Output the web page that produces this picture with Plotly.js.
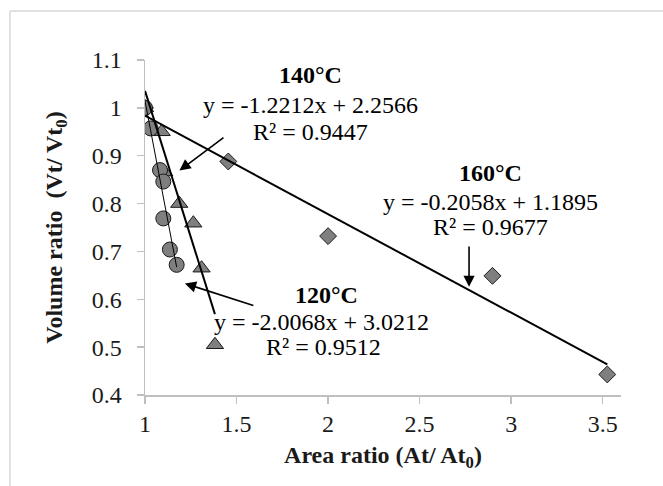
<!DOCTYPE html>
<html><head><meta charset="utf-8">
<script src="https://cdn.plot.ly/plotly-3.0.1.min.js"></script>
<style>html,body{margin:0;padding:0;background:#fff}#chart{width:663px;height:486px}</style>
</head><body><div id="chart"></div>
<script>
// 120°C (circles)
const x120 = [1.000, 1.031, 1.082, 1.100, 1.100, 1.136, 1.173];
const y120 = [1.000, 0.957, 0.870, 0.846, 0.769, 0.704, 0.672];
// 140°C (triangles)
const x140 = [1.000, 1.091, 1.105, 1.187, 1.264, 1.309, 1.382];
const y140 = [1.000, 0.950, 0.866, 0.800, 0.759, 0.665, 0.505];
// 160°C (diamonds)
const x160 = [1.000, 1.455, 2.000, 2.898, 3.525];
const y160 = [1.000, 0.888, 0.732, 0.649, 0.443];
// trendline coefficients shown on the chart
const slopes = {t120: -2.0068, t140: -1.2212, t160: -0.2058};
const intercepts = {t120: 3.0212, t140: 2.2566, t160: 1.1895};
const r2 = {t120: 0.9512, t140: 0.9447, t160: 0.9677};
const xTicks = [1, 1.5, 2, 2.5, 3, 3.5];
const yTicks = [0.4, 0.5, 0.6, 0.7, 0.8, 0.9, 1, 1.1];

const FONT = 'Liberation Serif';
const fill = '#7f7f7f', edge = '#1a1a1a';

function trend(xs, key) {
  const lo = Math.min(...xs), hi = Math.max(...xs);
  return {x: [lo, hi], y: [slopes[key]*lo + intercepts[key], slopes[key]*hi + intercepts[key]]};
}
const tr120 = trend(x120, 't120'), tr140 = trend(x140, 't140'), tr160 = trend(x160, 't160');

const traces = [
  {x: x160, y: y160, mode: 'markers', type: 'scatter', marker: {symbol: 'diamond', size: 13, color: fill, line: {color: edge, width: 1}}},
  {x: x140, y: y140, mode: 'markers', type: 'scatter', marker: {symbol: 'triangle-up', size: 15, color: fill, line: {color: edge, width: 1}}},
  {x: x120, y: y120, mode: 'markers', type: 'scatter', marker: {symbol: 'circle', size: 15, color: fill, line: {color: edge, width: 1}}},
  {x: tr160.x, y: tr160.y, mode: 'lines', type: 'scatter', line: {color: '#000', width: 2}},
  {x: tr140.x, y: tr140.y, mode: 'lines', type: 'scatter', line: {color: '#000', width: 2}},
  {x: tr120.x, y: tr120.y, mode: 'lines', type: 'scatter', line: {color: '#000', width: 1}}
];

const fmt = (v) => (v < 0 ? '-' : '') + Math.abs(v).toFixed(4);
function eq(key) { return 'y = ' + fmt(slopes[key]) + 'x + ' + intercepts[key].toFixed(4); }

const txt = (x, y, text) => ({x: x, y: y, xref: 'x', yref: 'y', text: text, showarrow: false,
  font: {family: FONT, size: 24, color: '#000'}, xanchor: 'center', yanchor: 'middle'});
const arrow = (x, y, ax, ay) => ({x: x, y: y, ax: ax, ay: ay, xref: 'x', yref: 'y', axref: 'x', ayref: 'y',
  text: '', showarrow: true, arrowhead: 2, arrowsize: 1.4, arrowwidth: 1.6, arrowcolor: '#000'});

const annotations = [
  txt(1.906, 1.069, '<b>140°C</b>'), txt(1.906, 1.006, eq('t140')), txt(1.906, 0.950, 'R² = ' + r2.t140.toFixed(4)),
  txt(1.990, 0.609, '<b>120°C</b>'), txt(1.963, 0.553, eq('t120')), txt(1.975, 0.501, 'R² = ' + r2.t120.toFixed(4)),
  txt(2.889, 0.864, '<b>160°C</b>'), txt(2.889, 0.804, eq('t160')), txt(2.889, 0.751, 'R² = ' + r2.t160.toFixed(4)),
  arrow(1.188, 0.869, 1.437, 0.940),
  arrow(1.218, 0.633, 1.600, 0.586),
  arrow(2.770, 0.626, 2.770, 0.7135)
];

const M = {l: 145, r: 42, t: 60, b: 91};
const W = 663, H = 486;
const pw = W - M.l - M.r, ph = H - M.t - M.b;
const px2paperX = (px) => (px - M.l) / pw;
const py2paperY = (py) => (H - M.b - py) / ph;
const frameColor = '#d9d9d9';
const shapes = [
  {type: 'line', xref: 'paper', yref: 'paper', x0: px2paperX(10), x1: px2paperX(W + 5), y0: py2paperY(11), y1: py2paperY(11), line: {color: frameColor, width: 1.5}},
  {type: 'line', xref: 'paper', yref: 'paper', x0: px2paperX(10), x1: px2paperX(10), y0: py2paperY(11), y1: py2paperY(H + 5), line: {color: frameColor, width: 1.5}}
];

const axisCommon = {showgrid: false, zeroline: false, showline: true, linecolor: '#bfbfbf', linewidth: 1.5,
  ticks: 'outside', ticklen: 7, tickcolor: '#bfbfbf', tickwidth: 1.5,
  tickfont: {family: FONT, size: 24, color: '#1a1a1a'}};

const layout = {
  width: W, height: H, margin: M, showlegend: false,
  font: {family: FONT, size: 24, color: '#1a1a1a'},
  paper_bgcolor: '#fff', plot_bgcolor: '#fff',
  xaxis: Object.assign({}, axisCommon, {range: [1, 3.6], tickvals: xTicks, ticktext: xTicks.map(String),
    title: {text: '<b>Area ratio (At/ At<sub>0</sub>)</b>', font: {family: FONT, size: 24, color: '#1a1a1a'}, standoff: 10}}),
  yaxis: Object.assign({}, axisCommon, {range: [0.4, 1.1], tickvals: yTicks, ticktext: yTicks.map(String),
    ticklabelstandoff: 10,
    title: {text: '<b>Volume ratio  (Vt/ Vt<sub>0</sub>)</b>', font: {family: FONT, size: 24, color: '#1a1a1a'}, standoff: 22}}),
  annotations: annotations, shapes: shapes
};

Plotly.newPlot('chart', traces, layout, {displayModeBar: false, staticPlot: true});
</script></body></html>
